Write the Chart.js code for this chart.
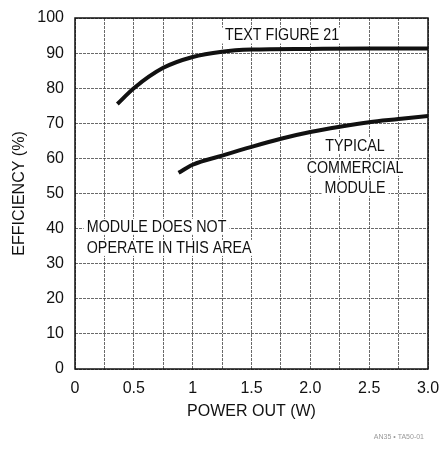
<!DOCTYPE html>
<html>
<head>
<meta charset="utf-8">
<script src="https://cdn.jsdelivr.net/npm/chart.js@4"></script>
<style>
  html, body { margin: 0; padding: 0; background: #fff; }
  #wrap { width: 442px; height: 451px; position: relative; }
</style>
</head>
<body>
<div id="wrap"><canvas id="effChart"></canvas></div>
<script>
// efficiency vs output power, two converter types
const powerFig21 = [0.36, 0.5, 0.75, 1.0, 1.25, 1.5, 2.0, 2.5, 3.0];
const effFig21 = [75.5, 80.0, 85.8, 88.9, 90.4, 91.0, 91.2, 91.3, 91.3];

const powerCommercial = [0.88, 1.0, 1.25, 1.5, 1.75, 2.0, 2.25, 2.5, 2.75, 3.0];
const effCommercial = [55.9, 58.2, 60.8, 63.3, 65.6, 67.5, 69.0, 70.3, 71.2, 72.1];

const xTicks = [0, 0.5, 1, 1.5, 2.0, 2.5, 3.0];
const xTickLabels = ['0', '0.5', '1', '1.5', '2.0', '2.5', '3.0'];

const FONT = "'Liberation Sans', Arial, sans-serif";
const NOTE_SQUEEZE = 0.84;   // narrow lettering for the notes

function toPoints(xs, ys) {
  return xs.map((x, i) => ({ x: x, y: ys[i] }));
}

// text notes placed in data coordinates
const notes = [
  { text: 'TEXT FIGURE 21', x: 1.76, y: 95.0, align: 'center' },
  { text: 'TYPICAL', x: 2.38, y: 63.5, align: 'center' },
  { text: 'COMMERCIAL', x: 2.38, y: 57.3, align: 'center' },
  { text: 'MODULE', x: 2.38, y: 51.6, align: 'center' },
  { text: 'MODULE DOES NOT', x: 0.1, y: 40.5, align: 'left' },
  { text: 'OPERATE IN THIS AREA', x: 0.1, y: 34.5, align: 'left' }
];

function noteBox(ctx, chart, n) {
  const px = chart.scales.x.getPixelForValue(n.x);
  const py = chart.scales.y.getPixelForValue(n.y);
  const w = ctx.measureText(n.text).width * NOTE_SQUEEZE;
  const left = n.align === 'center' ? px - w / 2 : px;
  return { px, py, w, left };
}

const notesPlugin = {
  id: 'notes',
  // white backing hides the grid behind the notes
  beforeDatasetsDraw(chart) {
    const ctx = chart.ctx;
    ctx.save();
    ctx.font = '17px ' + FONT;
    ctx.fillStyle = '#fff';
    notes.forEach(n => {
      const b = noteBox(ctx, chart, n);
      ctx.fillRect(b.left - 3, b.py - 8, b.w + 6, 16);
    });
    ctx.restore();
  },
  afterDatasetsDraw(chart) {
    const ctx = chart.ctx;
    ctx.save();
    ctx.font = '17px ' + FONT;
    ctx.fillStyle = '#111';
    ctx.textBaseline = 'middle';
    ctx.textAlign = 'left';
    notes.forEach(n => {
      const b = noteBox(ctx, chart, n);
      ctx.save();
      ctx.translate(b.left, b.py);
      ctx.scale(NOTE_SQUEEZE, 1);
      ctx.fillText(n.text, 0, 0);
      ctx.restore();
    });
    // plot frame
    const a = chart.chartArea;
    ctx.strokeStyle = '#111';
    ctx.lineWidth = 1.5;
    ctx.strokeRect(a.left, a.top, a.right - a.left, a.bottom - a.top);
    // figure reference tag
    ctx.font = '7px ' + FONT;
    ctx.fillStyle = '#999';
    ctx.textAlign = 'right';
    ctx.fillText('AN35 • TA50-01', 424, 437);
    ctx.restore();
  }
};

// thin, slightly broken grid
const gridStyle = {
  color: '#444',
  lineWidth: 0.8,
  drawTicks: false
};
const gridBorder = { display: false, dash: [3, 1] };

new Chart(document.getElementById('effChart'), {
  type: 'scatter',
  data: {
    datasets: [
      {
        data: toPoints(powerFig21, effFig21),
        showLine: true,
        borderColor: '#111',
        borderWidth: 4,
        pointRadius: 0,
        cubicInterpolationMode: 'monotone'
      },
      {
        data: toPoints(powerCommercial, effCommercial),
        showLine: true,
        borderColor: '#111',
        borderWidth: 4,
        pointRadius: 0,
        cubicInterpolationMode: 'monotone'
      }
    ]
  },
  options: {
    responsive: true,
    maintainAspectRatio: false,
    animation: false,
    layout: { padding: { left: 10, top: 18, right: 14, bottom: 30 } },
    plugins: {
      legend: { display: false },
      tooltip: { enabled: false }
    },
    scales: {
      x: {
        type: 'linear',
        min: 0,
        max: 3,
        border: gridBorder,
        grid: gridStyle,
        afterBuildTicks(scale) {
          const t = [];
          for (let i = 0; i <= 12; i++) t.push({ value: i * 0.25 });
          scale.ticks = t;
        },
        ticks: {
          color: '#111',
          font: { family: FONT, size: 16 },
          padding: 10,
          maxRotation: 0,
          autoSkip: false,
          callback(v) {
            const i = xTicks.findIndex(t => Math.abs(t - v) < 1e-6);
            return i >= 0 ? xTickLabels[i] : '';
          }
        },
        title: {
          display: true,
          text: 'POWER OUT (W)',
          color: '#111',
          font: { family: FONT, size: 16 },
          padding: { top: 4, bottom: 0 }
        },
        afterFit(scale) {
          scale.height = 52;
          scale.paddingLeft = 0;
          scale.paddingRight = 0;
        }
      },
      y: {
        min: 0,
        max: 100,
        border: gridBorder,
        grid: gridStyle,
        ticks: {
          stepSize: 10,
          color: '#111',
          font: { family: FONT, size: 16 },
          padding: 11
        },
        title: {
          display: true,
          text: 'EFFICIENCY (%)',
          color: '#111',
          font: { family: FONT, size: 16 },
          padding: { top: 0, bottom: 0 }
        },
        afterFit(scale) {
          scale.width = 65;
          scale.paddingTop = 0;
          scale.paddingBottom = 0;
        }
      }
    }
  },
  plugins: [notesPlugin]
});
</script>
</body>
</html>
